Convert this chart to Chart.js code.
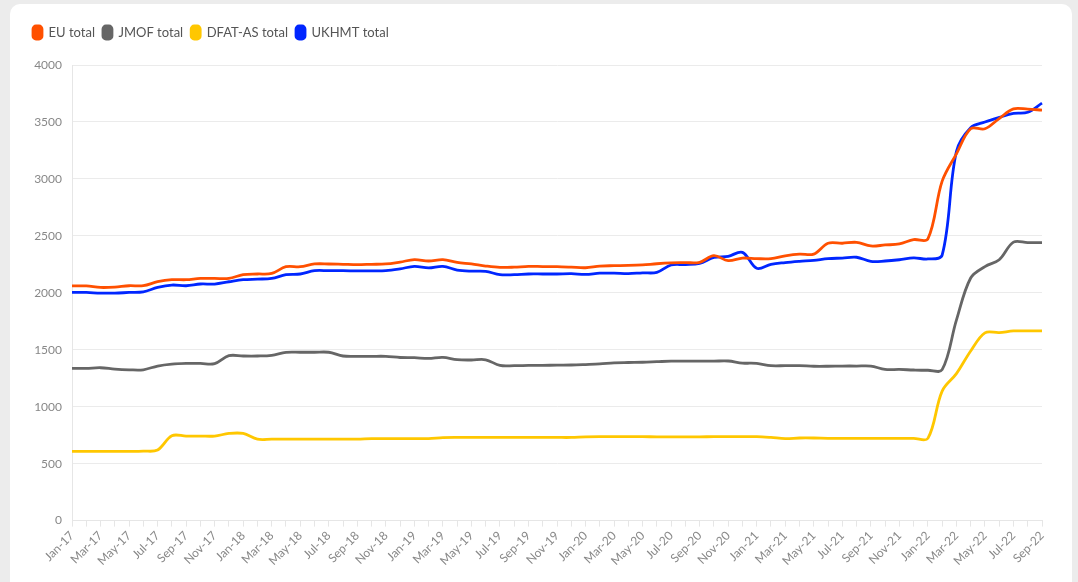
<!DOCTYPE html>
<html>
<head>
<meta charset="utf-8">
<script src="https://cdn.jsdelivr.net/npm/chart.js@4.4.0/dist/chart.umd.min.js"></script>
<style>
    html, body { margin: 0; padding: 0; background: #ececec; }
    body { width: 1078px; height: 582px; overflow: hidden; position: relative; }
    .card {
        position: absolute; left: 10px; top: 4px; width: 1062px; height: 600px;
        background: #ffffff; border-radius: 10px;
    }
    .chart-wrapper { position: absolute; left: 0; top: 0; width: 1062px; height: 578px; }
</style>
</head>
<body>
<div class="card">
    <div class="chart-wrapper"><canvas id="chart"></canvas></div>
</div>
<script>
// Monthly labels Jan-17 .. Sep-22
const months = ['Jan', 'Feb', 'Mar', 'Apr', 'May', 'Jun', 'Jul', 'Aug', 'Sep', 'Oct', 'Nov', 'Dec'];
const labels = [];
for (let y = 17; y <= 22; y++) {
    months.forEach((m, i) => {
        if (y === 22 && i > 8) return;
        labels.push(m + '-' + y);
    });
}

const euTotal = [
    2060, 2060, 2047, 2050, 2062, 2062, 2097, 2115, 2115, 2126, 2126, 2126,
    2159, 2165, 2170, 2229, 2229, 2253, 2253, 2250, 2247, 2250, 2253, 2270,
    2291, 2279, 2291, 2267, 2253, 2235, 2223, 2225, 2232, 2230, 2229, 2225,
    2220, 2235, 2238, 2240, 2245, 2255, 2262, 2265, 2268, 2326, 2282, 2305,
    2300, 2300, 2325, 2340, 2340, 2435, 2435, 2443, 2411, 2420, 2429, 2467,
    2473, 2980, 3220, 3440, 3440, 3530, 3615, 3612, 3604
];

const jmofTotal = [
    1336, 1336, 1342, 1330, 1324, 1324, 1357, 1374, 1380, 1380, 1378, 1448,
    1445, 1445, 1451, 1477, 1478, 1478, 1478, 1445, 1442, 1442, 1442, 1432,
    1430, 1424, 1433, 1413, 1410, 1412, 1362, 1360, 1362, 1363, 1365, 1366,
    1370, 1375, 1385, 1388, 1390, 1395, 1400, 1400, 1400, 1400, 1401, 1383,
    1380, 1360, 1360, 1360, 1355, 1355, 1357, 1357, 1357, 1327, 1327, 1322,
    1320, 1325, 1760, 2130, 2230, 2290, 2445, 2440, 2440
];

const dfatTotal = [
    608, 608, 608, 608, 608, 610, 620, 745, 742, 742, 742, 765,
    765, 715, 715, 715, 715, 715, 715, 715, 715, 720, 720, 720,
    720, 720, 728, 730, 730, 730, 730, 730, 730, 730, 730, 730,
    735, 737, 737, 737, 737, 735, 735, 735, 735, 737, 737, 737,
    737, 730, 720, 725, 725, 722, 722, 722, 722, 722, 722, 722,
    722, 1137, 1290, 1489, 1648, 1650, 1665, 1665, 1665
];

const ukhmtTotal = [
    2003, 2003, 1997, 1997, 2003, 2008, 2047, 2068, 2062, 2077, 2077, 2097,
    2115, 2120, 2126, 2159, 2165, 2194, 2194, 2194, 2192, 2192, 2194, 2210,
    2232, 2218, 2232, 2200, 2190, 2188, 2159, 2159, 2165, 2165, 2165, 2168,
    2161, 2172, 2172, 2168, 2175, 2179, 2244, 2248, 2259, 2310, 2320, 2355,
    2215, 2250, 2265, 2276, 2285, 2300, 2305, 2312, 2276, 2279, 2290, 2306,
    2297, 2330, 3240, 3450, 3500, 3540, 3575, 3585, 3665
];

const yTicks = [0, 500, 1000, 1500, 2000, 2500, 3000, 3500, 4000];

const FONT = 'Lato, "Open Sans", sans-serif';

function series(label, data, color) {
    return {
        label: label,
        data: data,
        borderColor: color,
        backgroundColor: color,
        borderWidth: 2.8,
        fill: false,
        tension: 0.35,
        pointRadius: 0,
        pointHoverRadius: 0
    };
}

// Extra space below the legend
const legendMargin = {
    id: 'legendMargin',
    beforeInit(chart) {
        const fit = chart.legend.fit;
        chart.legend.fit = function () {
            fit.bind(chart.legend)();
            this.height += 16;
        };
    }
};

new Chart(document.getElementById('chart'), {
    type: 'line',
    data: {
        labels: labels,
        datasets: [
            series('EU total', euTotal, '#ff5000'),
            series('JMOF total', jmofTotal, '#666666'),
            series('DFAT-AS total', dfatTotal, '#ffc700'),
            series('UKHMT total', ukhmtTotal, '#0026ff')
        ]
    },
    plugins: [legendMargin],
    options: {
        responsive: true,
        maintainAspectRatio: false,
        animation: false,
        layout: { padding: { left: 15, right: 30, top: 14, bottom: 12 } },
        plugins: {
            legend: {
                position: 'top',
                align: 'start',
                labels: {
                    boxWidth: 9,
                    boxHeight: 13,
                    useBorderRadius: true,
                    borderRadius: 3,
                    padding: 8,
                    color: '#555555',
                    font: { family: FONT, size: 13 }
                }
            },
            tooltip: { enabled: false }
        },
        scales: {
            y: {
                min: 0,
                max: 4000,
                afterBuildTicks: axis => { axis.ticks = yTicks.map(v => ({ value: v })); },
                afterFit: axis => { axis.width = 47; },
                grid: { color: '#ebebeb', drawTicks: false, lineWidth: 1 },
                border: { color: '#e6e6e6' },
                ticks: {
                    padding: 10,
                    color: '#888888',
                    font: { family: FONT, size: 12 },
                    callback: v => String(v)
                }
            },
            x: {
                grid: { drawOnChartArea: false, drawTicks: true, tickLength: 6, color: '#e6e6e6' },
                border: { color: '#e6e6e6' },
                ticks: {
                    autoSkip: false,
                    minRotation: 45,
                    maxRotation: 45,
                    padding: 2,
                    color: '#888888',
                    font: { family: FONT, size: 12 },
                    callback: function (value, index) {
                        return index % 2 === 0 ? labels[index] : '';
                    }
                }
            }
        }
    }
});
</script>
</body>
</html>
